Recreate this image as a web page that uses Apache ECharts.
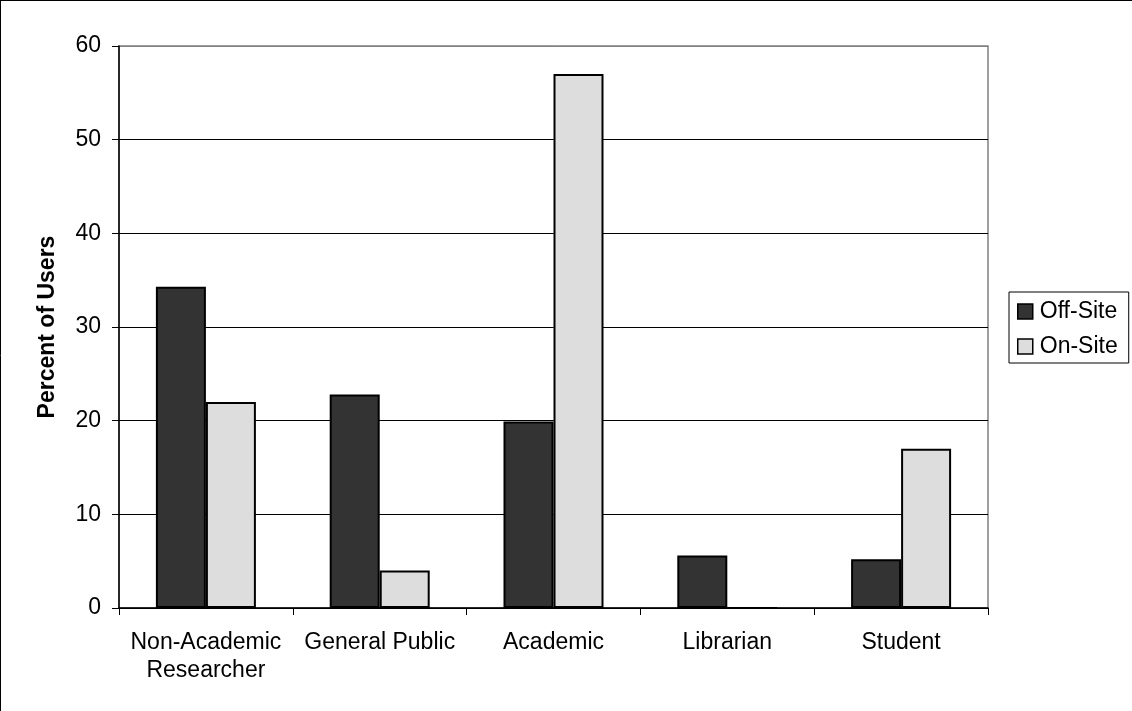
<!DOCTYPE html>
<html>
<head>
<meta charset="utf-8">
<title>Percent of Users by Type</title>
<script src="https://cdn.jsdelivr.net/npm/echarts@6/dist/echarts.min.js"></script>
<style>
  html, body { margin: 0; padding: 0; background: #ffffff; }
  #chart { width: 1132px; height: 711px; }
</style>
</head>
<body>
<div id="chart"></div>
<script>
// User categories along the x axis
const categories = ['Non-Academic\nResearcher', 'General Public', 'Academic', 'Librarian', 'Student'];
// Percent of users per category
const offSite = [34.3, 22.8, 19.9, 5.6, 5.2];
const onSite = [22, 4, 57, 0, 17];
const seriesNames = ['Off-Site', 'On-Site'];
const yTicks = { min: 0, max: 60, step: 10 };

const FONT = '"Liberation Sans", Arial, sans-serif';
const FS = 23;

const chart = echarts.init(document.getElementById('chart'), null, { renderer: 'canvas' });

// gridline colours: plain black inside, grey where the line meets the plot frame at the top
const tickCount = (yTicks.max - yTicks.min) / yTicks.step + 1;
const splitColors = [];
for (let i = 0; i < tickCount; i++) splitColors.push(i === tickCount - 1 ? '#808080' : '#000000');

chart.setOption({
  animation: false,
  backgroundColor: '#ffffff',
  textStyle: { fontFamily: FONT },
  graphic: [
    { type: 'line', shape: { x1: 0, y1: 0.5, x2: 1132, y2: 0.5 }, style: { stroke: '#000', lineWidth: 1 }, silent: true },
    { type: 'line', shape: { x1: 0.5, y1: 0, x2: 0.5, y2: 711 }, style: { stroke: '#000', lineWidth: 1 }, silent: true }
  ],
  grid: {
    left: 119, right: 144, top: 46, bottom: 103,
    show: true, borderColor: '#808080', borderWidth: 1.5, backgroundColor: '#ffffff'
  },
  legend: {
    orient: 'vertical',
    left: 1009, top: 292,
    padding: [8, 11, 5, 8],
    itemGap: 12,
    itemWidth: 15, itemHeight: 15,
    icon: 'rect',
    borderColor: '#000', borderWidth: 1,
    itemStyle: { borderColor: '#000', borderWidth: 1.5 },
    textStyle: { fontFamily: FONT, fontSize: FS, color: '#000', padding: [0, 0, 0, 2] },
    data: seriesNames
  },
  xAxis: {
    type: 'category',
    data: categories,
    axisLine: { show: true, lineStyle: { color: '#000', width: 1.5 } },
    axisTick: { show: true, inside: false, length: 7, alignWithLabel: false, lineStyle: { color: '#000', width: 1 } },
    axisLabel: { color: '#000', fontFamily: FONT, fontSize: FS, lineHeight: 28, margin: 21, interval: 0 },
    splitLine: { show: false }
  },
  yAxis: {
    type: 'value',
    min: yTicks.min, max: yTicks.max, interval: yTicks.step,
    name: 'Percent of Users',
    nameLocation: 'middle',
    nameGap: 60,
    nameRotate: 90,
    nameTextStyle: { color: '#000', fontFamily: FONT, fontSize: FS, fontWeight: 'bold' },
    axisLine: { show: true, lineStyle: { color: '#000', width: 1.5 } },
    axisTick: { show: true, inside: false, length: 7, lineStyle: { color: '#000', width: 1 } },
    axisLabel: { color: '#000', fontFamily: FONT, fontSize: FS, margin: 18 },
    splitLine: { show: true, lineStyle: { color: splitColors, width: 1 } }
  },
  series: [
    {
      name: seriesNames[0],
      type: 'bar',
      data: offSite,
      barWidth: 50,
      barGap: '0%',
      itemStyle: { color: '#333333', borderColor: '#000', borderWidth: 2 }
    },
    {
      name: seriesNames[1],
      type: 'bar',
      data: onSite,
      barWidth: 50,
      barGap: '0%',
      itemStyle: { color: '#dddddd', borderColor: '#000', borderWidth: 2 }
    }
  ]
});
</script>
</body>
</html>
